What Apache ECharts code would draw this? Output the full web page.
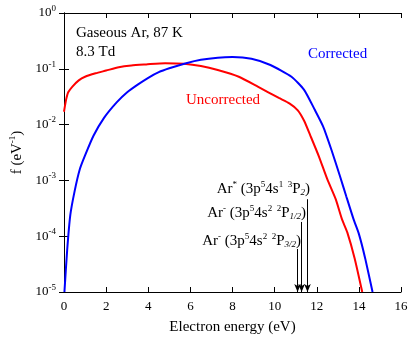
<!DOCTYPE html>
<html>
<head>
<meta charset="utf-8">
<script src="https://cdn.jsdelivr.net/npm/echarts@6/dist/echarts.min.js"></script>
<style>
  html, body { margin: 0; padding: 0; background: #fff; }
  #eedf { width: 411px; height: 341px; }
</style>
</head>
<body>
<div id="eedf"></div>
<script>
  // electron energy distribution
  var uncorrectedE = [0, 0.1, 0.2, 0.4, 0.7, 1.0, 1.5, 2.0, 2.6, 3.2, 3.9, 4.8, 5.7, 6.5, 7.3, 8.3, 9.2, 10.2, 10.7, 11.1, 11.4, 11.7, 12.1, 12.5, 12.9, 13.2, 13.45, 13.8, 14.16];
  var uncorrectedF = [0.017, 0.028, 0.038, 0.048, 0.062, 0.072, 0.083, 0.093, 0.107, 0.115, 0.120, 0.126, 0.123, 0.112, 0.095, 0.072, 0.048, 0.030, 0.024, 0.018, 0.0117, 0.0063, 0.0027, 0.00105, 0.00046, 0.0002, 0.000117, 0.00004, 0.00001];
  var correctedE = [0.02, 0.15, 0.3, 0.5, 0.75, 1.0, 1.4, 1.9, 2.5, 3.0, 3.5, 4.0, 4.5, 5.0, 5.8, 6.5, 7.3, 8.0, 8.9, 9.8, 10.8, 11.4, 11.9, 12.3, 12.7, 13.1, 13.4, 13.75, 14.0, 14.3, 14.65];
  var correctedF = [0.00001, 0.000056, 0.00024, 0.00063, 0.00158, 0.0028, 0.0063, 0.0132, 0.025, 0.038, 0.052, 0.069, 0.087, 0.102, 0.126, 0.145, 0.158, 0.162, 0.151, 0.117, 0.072, 0.042, 0.0186, 0.0093, 0.0035, 0.0012, 0.00052, 0.0002, 0.00011, 0.00004, 0.00001];

  // excited state thresholds (eV) and where each arrow starts
  var levelE = [11.09, 11.28, 11.56];
  var levelTop = [0.000059, 0.00018, 0.00046];

  var xTicks = [0, 16, 2];       // min, max, step
  var yDecades = [-5, 0];        // 10^-5 .. 10^0

  var serif = '"Liberation Serif", "DejaVu Serif", serif';

  var supRich = {
    sup: { fontSize: 9, fontFamily: serif, color: '#000', padding: [0, 0, 9, 0] }
  };
  var labelRich = {
    sp: { fontSize: 9, fontFamily: serif, fill: '#000', padding: [0, 0, 9, 0] },
    sb: { fontSize: 9, fontFamily: serif, fill: '#000', fontStyle: 'italic', padding: [8, 0, 0, 0] }
  };

  var chart = echarts.init(document.getElementById('eedf'));

  var option = {
    animation: false,
    grid: { left: 61, right: 10, top: 13, bottom: 49 },
    xAxis: [
      {
        type: 'value', min: xTicks[0], max: xTicks[1], interval: xTicks[2],
        axisLine: { lineStyle: { color: '#000', width: 1 } },
        axisTick: { inside: true, length: 5, lineStyle: { color: '#000' } },
        axisLabel: { fontSize: 13, fontFamily: serif, color: '#000', margin: 8 },
        splitLine: { show: false },
        name: 'Electron energy (eV)', nameLocation: 'middle', nameGap: 28,
        nameTextStyle: { fontSize: 15, fontFamily: serif, color: '#000' }
      },
      {
        type: 'value', position: 'top', min: xTicks[0], max: xTicks[1], interval: xTicks[2],
        axisLine: { lineStyle: { color: '#000', width: 1 } },
        axisTick: { inside: true, length: 5, lineStyle: { color: '#000' } },
        axisLabel: { show: false },
        splitLine: { show: false }
      }
    ],
    yAxis: [
      {
        type: 'log', logBase: 10, min: Math.pow(10, yDecades[0]), max: Math.pow(10, yDecades[1]),
        splitNumber: 5,
        axisLine: { lineStyle: { color: '#000', width: 1 } },
        axisTick: { inside: true, length: 5, lineStyle: { color: '#000' } },
        minorTick: { show: false },
        axisLabel: {
          fontSize: 13, fontFamily: serif, color: '#000', margin: 8,
          formatter: function (v) {
            return '10{sup|' + Math.round(Math.log10(v)) + '}';
          },
          rich: supRich
        },
        splitLine: { show: false },
        name: 'f (eV{sup|-1})', nameLocation: 'middle', nameGap: 38,
        nameTextStyle: { fontSize: 15, fontFamily: serif, color: '#000', rich: supRich }
      },
      {
        type: 'log', logBase: 10, position: 'right', min: Math.pow(10, yDecades[0]), max: Math.pow(10, yDecades[1]),
        splitNumber: 5,
        axisLine: { lineStyle: { color: '#000', width: 1 } },
        axisTick: { inside: true, length: 5, lineStyle: { color: '#000' } },
        axisLabel: { show: false },
        splitLine: { show: false }
      }
    ],
    series: [
      {
        name: 'Uncorrected', type: 'line', showSymbol: false, silent: true,
        smooth: 0.2,
        data: uncorrectedE.map(function (e, i) { return [e, uncorrectedF[i]]; }),
        lineStyle: { color: '#ff0000', width: 2 }, itemStyle: { color: '#ff0000' }
      },
      {
        name: 'Corrected', type: 'line', showSymbol: false, silent: true,
        smooth: 0.2,
        data: correctedE.map(function (e, i) { return [e, correctedF[i]]; }),
        lineStyle: { color: '#0000ff', width: 2 }, itemStyle: { color: '#0000ff' }
      },
      {
        name: 'levels', type: 'line', data: [], silent: true,
        markLine: {
          silent: true,
          symbol: ['none', 'arrow'],
          symbolSize: [5, 8],
          label: { show: false },
          lineStyle: { color: '#000', width: 1, type: 'solid' },
          data: levelE.map(function (e, i) {
            return [{ coord: [e, levelTop[i]] }, { coord: [e, 0.00001] }];
          })
        }
      }
    ],
    graphic: [
      { type: 'text', x: 76, y: 33, style: { text: 'Gaseous Ar, 87 K', font: '15px ' + serif, fill: '#000', verticalAlign: 'middle' } },
      { type: 'text', x: 76, y: 52, style: { text: '8.3 Td', font: '15px ' + serif, fill: '#000', verticalAlign: 'middle' } },
      { type: 'text', x: 308, y: 54, style: { text: 'Corrected', font: '15px ' + serif, fill: '#0000ff', verticalAlign: 'middle' } },
      { type: 'text', x: 186, y: 100, style: { text: 'Uncorrected', font: '15px ' + serif, fill: '#ff0000', verticalAlign: 'middle' } },
      {
        type: 'text', x: 310, y: 189,
        style: {
          text: 'Ar{sp|*} (3p{sp|5}4s{sp|1  3}P{sb|2})', font: '15px ' + serif, fill: '#000',
          align: 'right', verticalAlign: 'middle', rich: labelRich
        }
      },
      {
        type: 'text', x: 306, y: 213,
        style: {
          text: 'Ar{sp|-} (3p{sp|5}4s{sp|2  2}P{sb|1/2})', font: '15px ' + serif, fill: '#000',
          align: 'right', verticalAlign: 'middle', rich: labelRich
        }
      },
      {
        type: 'text', x: 301, y: 241,
        style: {
          text: 'Ar{sp|-} (3p{sp|5}4s{sp|2  2}P{sb|3/2})', font: '15px ' + serif, fill: '#000',
          align: 'right', verticalAlign: 'middle', rich: labelRich
        }
      }
    ]
  };

  chart.setOption(option);
</script>
</body>
</html>
